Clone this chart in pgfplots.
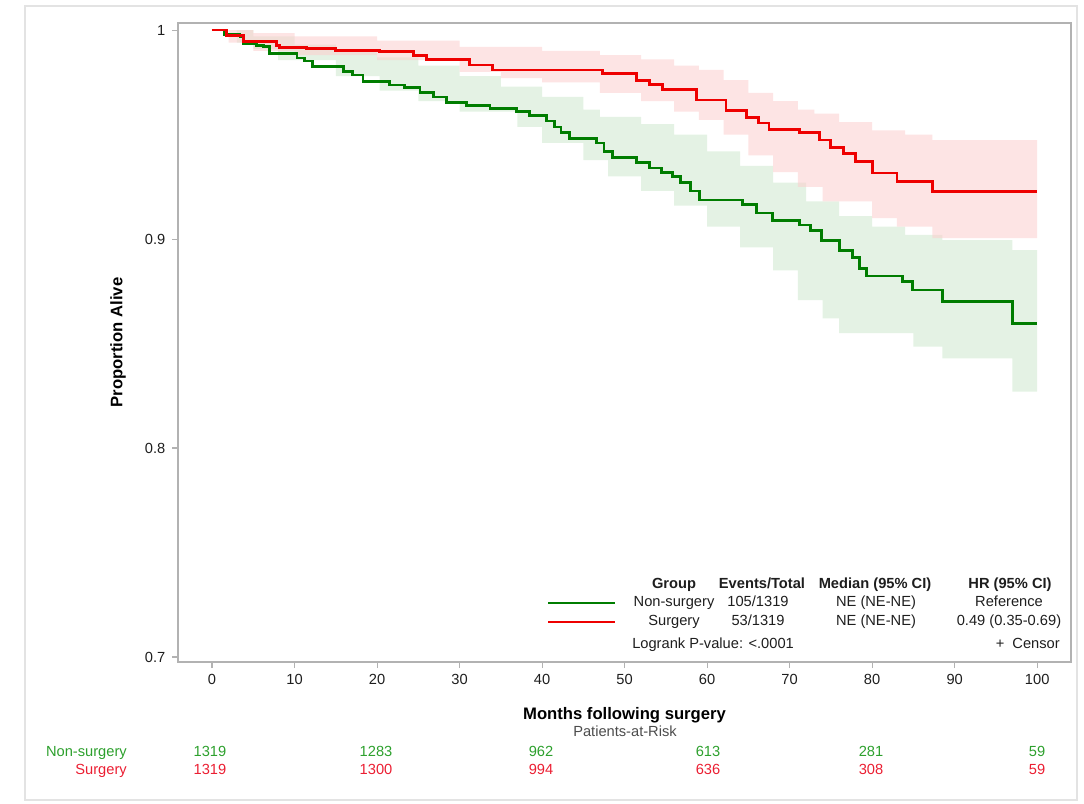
\documentclass[border=0pt]{standalone}
\usepackage{fontspec}
\setmainfont{Liberation Sans}
\usepackage{pgfplots}
\pgfplotsset{compat=1.18}
\definecolor{kmgreen}{RGB}{0,125,0}
\definecolor{kmred}{RGB}{238,0,0}
\definecolor{bandgreen}{RGB}{205,232,205}
\definecolor{bandred}{RGB}{252,205,205}
\definecolor{riskgreen}{RGB}{45,160,45}
\definecolor{riskred}{RGB}{235,30,50}
\definecolor{framegray}{RGB}{178,178,178}
\definecolor{txt}{RGB}{30,30,30}
\newcommand{\sm}{\fontsize{11}{13}\selectfont}
\newcommand{\lb}{\fontsize{12.5}{15}\selectfont\bfseries}
\begin{document}
\begin{tikzpicture}
\path[use as bounding box] (0,0) rectangle (813pt,602.25pt);
\begin{scope}[x=0.75pt,y=-0.75pt,yshift=602.25pt]
\draw[gray!22, line width=0.8pt] (25,6) rectangle (1077,800);
\end{scope}
\begin{axis}[
  at={(133.5pt,105.75pt)}, anchor=south west,
  scale only axis, width=669.75pt, height=479.25pt,
  xmin=-4.12, xmax=104.1, ymin=0.6976, ymax=1.0034,
  axis line style={framegray, line width=0.8pt},
  xtick={0,10,...,100}, ytick={0.7,0.8,0.9,1},
  yticklabels={0.7,0.8,0.9,1},
  tick pos=left, tick align=outside, major tick length=4.5pt,
  tick style={framegray, line width=0.8pt},
  ticklabel style={font=\sm, text=txt},
  /pgf/number format/assume math mode=true,
  xticklabel style={yshift=-1.5pt},
  yticklabel style={xshift=-1.5pt},
  xlabel={Months following surgery},
  ylabel={Proportion Alive},
  every axis x label/.style={at={(rel axis cs:0.5,0)}, yshift=-39.75pt, anchor=center, font=\lb, text=black},
  every axis y label/.style={at={(rel axis cs:0,0.5)}, xshift=-45pt, rotate=90, anchor=center, font=\lb, text=black},
]
% confidence bands (step polygons: upper bound forward, lower bound back)
\addplot[fill=bandgreen, fill opacity=0.55, draw=none, forget plot] coordinates {
(0,1)(5,1)(5,0.997)(10,0.997)(10,0.993)(15,0.993)(15,0.990)(20,0.990)(20,0.987)(25,0.987)(25,0.983)(30,0.983)(30,0.978)(35,0.978)(35,0.973)(40,0.973)(40,0.968)(45,0.968)(45,0.962)(47,0.962)(47,0.9585)(52,0.9585)(52,0.955)(56,0.955)(56,0.950)(60,0.950)(60,0.942)(64,0.942)(64,0.935)(68,0.935)(68,0.927)(72,0.927)(72,0.918)(76,0.918)(76,0.911)(80,0.911)(80,0.906)(84,0.906)(84,0.902)(88.5,0.902)(88.5,0.8995)(97,0.8995)(97,0.8947)(100,0.8947)
(100,0.827)(97,0.827)(97,0.8429)(88.5,0.8429)(88.5,0.8485)(85,0.8485)(85,0.855)(76,0.855)(76,0.862)(74,0.862)(74,0.8708)(71,0.8708)(71,0.885)(68,0.885)(68,0.896)(64,0.896)(64,0.9059)(60,0.9059)(60,0.916)(56,0.916)(56,0.923)(52,0.923)(52,0.930)(48,0.930)(48,0.9378)(45,0.9378)(45,0.946)(40,0.946)(40,0.9537)(37,0.9537)(37,0.961)(30,0.961)(30,0.966)(25,0.966)(25,0.971)(20.3,0.971)(20.3,0.978)(15,0.978)(15,0.9856)(8,0.9856)(8,0.991)(5,0.991)(5,0.994)(3,0.994)(3,1)(0,1)} -- cycle;
\addplot[fill=bandred, fill opacity=0.55, draw=none, forget plot] coordinates {
(0,1)(5,1)(5,0.9985)(10,0.9985)(10,0.997)(20,0.997)(20,0.995)(30,0.995)(30,0.992)(40,0.992)(40,0.990)(47,0.990)(47,0.988)(52,0.988)(52,0.986)(56,0.986)(56,0.983)(59,0.983)(59,0.981)(62,0.981)(62,0.976)(65,0.976)(65,0.970)(68,0.970)(68,0.966)(71,0.966)(71,0.962)(73,0.962)(73,0.960)(76,0.960)(76,0.956)(80,0.956)(80,0.952)(84,0.952)(84,0.950)(87.3,0.950)(87.3,0.9474)(100,0.9474)
(100,0.9005)(87.3,0.9005)(87.3,0.906)(83,0.906)(83,0.910)(80,0.910)(80,0.918)(74,0.918)(74,0.925)(71,0.925)(71,0.932)(68,0.932)(68,0.940)(65,0.940)(65,0.950)(62,0.950)(62,0.957)(59,0.957)(59,0.961)(56,0.961)(56,0.966)(52,0.966)(52,0.970)(47,0.970)(47,0.975)(40,0.975)(40,0.977)(35,0.977)(35,0.980)(30,0.980)(30,0.9856)(20,0.9856)(20,0.988)(10,0.988)(10,0.990)(5,0.990)(5,0.994)(2,0.994)(2,1)(0,1)} -- cycle;
% survival curves
\addplot[kmgreen, line width=2.1pt, const plot] coordinates {(0,1)(1.5,0.998)(3.4,0.9968)(3.8,0.9936)(5.4,0.9928)(6.2,0.992)(7,0.9888)(10.3,0.9866)(11.2,0.9852)(12.2,0.9825)(15.9,0.98)(17,0.9785)(18.3,0.9753)(21.5,0.9737)(23.3,0.9725)(25.2,0.97)(26.8,0.968)(28.4,0.9652)(30.8,0.964)(33.7,0.9625)(36.9,0.961)(38.5,0.959)(40.5,0.9565)(41.5,0.9536)(42.3,0.951)(43.3,0.948)(46.6,0.946)(47.5,0.942)(48.5,0.9391)(51.4,0.9365)(53,0.934)(54.5,0.932)(55.8,0.930)(56.8,0.927)(58,0.923)(59.1,0.9187)(64.3,0.9165)(66,0.9125)(67.9,0.909)(71.2,0.9067)(72.5,0.904)(73.9,0.8995)(76,0.8947)(77.6,0.891)(78.5,0.886)(79.3,0.8823)(83.7,0.8796)(84.9,0.8756)(88.5,0.870)(97,0.8597)(100,0.8597)};
\addplot[kmred, line width=2.1pt, const plot] coordinates {(0,1)(1.8,0.9976)(3.8,0.9944)(7.8,0.9928)(8.2,0.9917)(11.5,0.9912)(15,0.9904)(20.3,0.9896)(24.4,0.988)(26,0.986)(31.2,0.9833)(34,0.9809)(47.3,0.9793)(51.4,0.976)(53,0.974)(54.6,0.9716)(58.7,0.9665)(62.3,0.9617)(64.8,0.958)(66.2,0.9555)(67.5,0.9526)(71.2,0.9509)(73.6,0.9474)(75,0.944)(76.5,0.941)(78,0.937)(80,0.9316)(83,0.9274)(87.3,0.9226)(100,0.9226)};
\end{axis}
\begin{scope}[x=0.75pt,y=-0.75pt,yshift=602.25pt, every node/.style={font=\sm, text=txt, inner sep=0pt, text height=8pt, text depth=2.4pt}]
% legend table
\draw[kmgreen, line width=2.1pt] (548,603) -- (615,603);
\draw[kmred, line width=2.1pt] (548,622) -- (615,622);
\node[font=\sm\bfseries] at (674,585) {Group};
\node[font=\sm\bfseries] at (762,585) {Events/Total};
\node[font=\sm\bfseries] at (875,585) {Median (95\% CI)};
\node[font=\sm\bfseries] at (1010,585) {HR (95\% CI)};
\node at (674,603) {Non-surgery};
\node at (674,622) {Surgery};
\node at (758,603) {105/1319};
\node at (758,622) {53/1319};
\node at (876,603) {NE (NE-NE)};
\node at (876,622) {NE (NE-NE)};
\node at (1009,603) {Reference};
\node at (1009,622) {0.49 (0.35-0.69)};
\node[anchor=west] at (632,645) {Logrank P-value: <.0001};
\node[anchor=east] at (1060,645) {+\ \ Censor};
% patients at risk
\node[text=black!70] at (625,733) {Patients-at-Risk};
\node[anchor=east, text=riskgreen] at (127,753) {Non-surgery};
\node[anchor=east, text=riskred] at (127,771) {Surgery};
\foreach \x/\a/\b in {210/1319/1319, 376/1283/1300, 541/962/994, 708/613/636, 871/281/308, 1037/59/59} {
  \node[text=riskgreen] at (\x,753) {\a};
  \node[text=riskred] at (\x,771) {\b};
}
\end{scope}
\end{tikzpicture}
\end{document}
